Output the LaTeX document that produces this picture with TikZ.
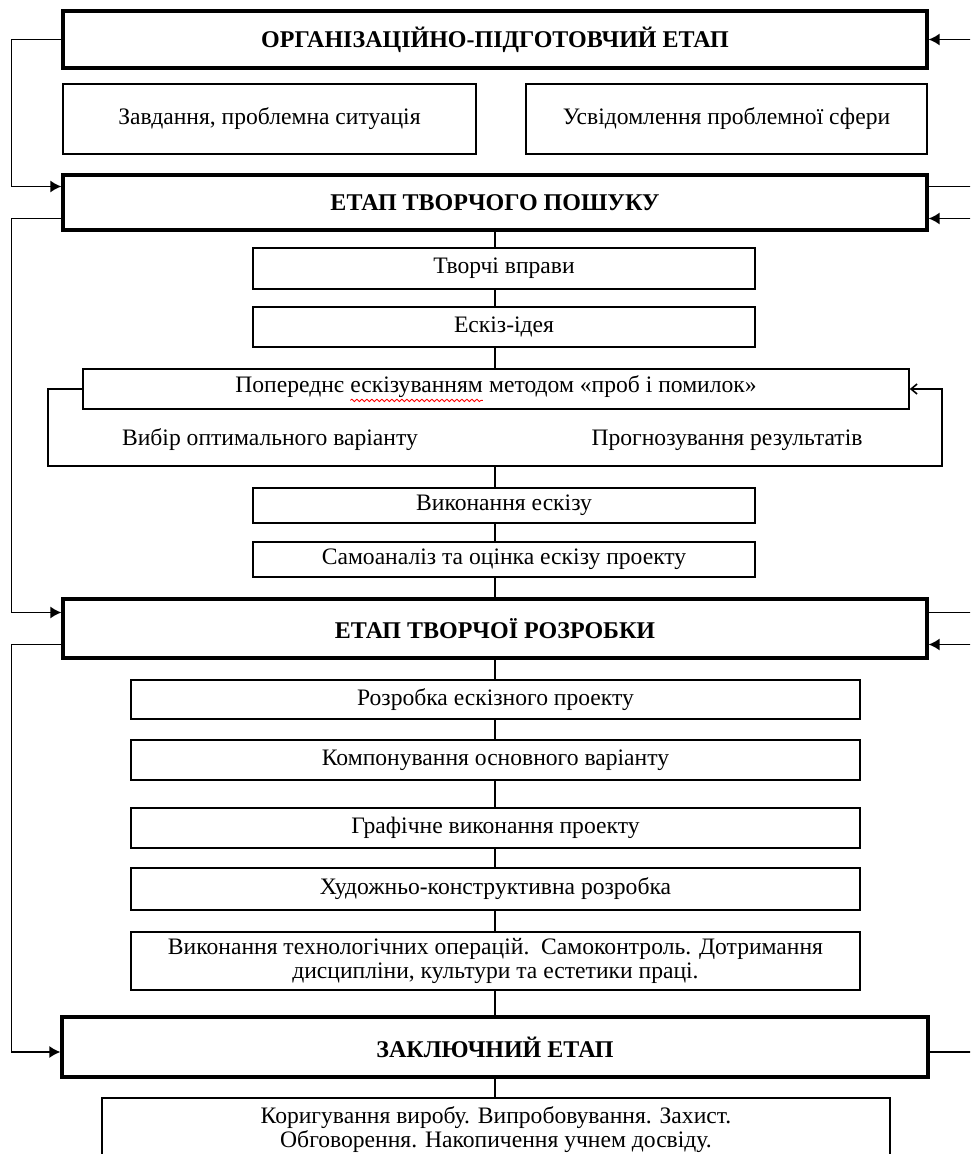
\documentclass[tikz,border=0pt]{standalone}
\usepackage{fontspec}
\setmainfont{Liberation Serif}
\usetikzlibrary{arrows.meta,decorations.pathmorphing}

\newcommand\spellwave[1]{\tikz[baseline=(w.base)]{\node[inner sep=0pt,outer sep=0pt,draw=none,minimum width=0pt,minimum height=0pt] (w) {#1};
    \draw[red,line width=0.4pt,decorate,decoration={snake,amplitude=0.6pt,segment length=2.5pt}] ([yshift=-1.2pt]w.south west) -- ([yshift=-1.2pt]w.south east);}}

\begin{document}
\begin{tikzpicture}[x=0.5pt,y=-0.5pt,
    stage/.style = {draw,line width=1.6pt,inner sep=0pt,font=\fontsize{12}{14}\selectfont\bfseries},
    task/.style = {draw,line width=0.8pt,inner sep=0pt,align=center,font=\fontsize{11.8}{12}\selectfont},
    note/.style = {inner sep=0pt,font=\fontsize{11.8}{12}\selectfont},
    link/.style = {line width=0.8pt},
    feed/.style = {line width=0.8pt,-{Latex[length=5.5pt,width=6pt]}},
    back/.style = {line width=0.8pt,{Latex[length=5.5pt,width=6pt]}-}]

    \useasboundingbox (0,0) rectangle (970,1154);
    \clip (0,0) rectangle (970,1154);

    \node[stage,minimum width=432pt,minimum height=28.5pt] (org) at (495,39.5) {ОРГАНІЗАЦІЙНО-ПІДГОТОВЧИЙ ЕТАП};
    \node[task,minimum width=206.5pt,minimum height=35pt] (problem) at (269.5,119) {Завдання, проблемна ситуація};
    \node[task,minimum width=200.5pt,minimum height=35pt] (awareness) at (726.5,119) {Усвідомлення проблемної сфери};

    \node[stage,minimum width=432pt,minimum height=27.5pt] (search) at (495,202.5) {ЕТАП ТВОРЧОГО ПОШУКУ};
    \node[task,minimum width=251pt,minimum height=20.5pt] (exercise) at (504,268.5) {Творчі вправи};
    \node[task,minimum width=251pt,minimum height=20pt] (idea) at (504,327) {Ескіз-ідея};
    \node[task,minimum width=413pt,minimum height=20pt] (trial) at (496,389) {Попереднє \spellwave{ескізуванням} методом «проб і помилок»};
    \node[note] (choice) at (270,440) {Вибір оптимального варіанту};
    \node[note] (forecast) at (727,440) {Прогнозування результатів};
    \node[task,minimum width=251pt,minimum height=17.5pt] (sketch) at (504,505.5) {Виконання ескізу};
    \node[task,minimum width=251pt,minimum height=17.5pt] (selfcheck) at (504,559.5) {Самоаналіз та оцінка ескізу проекту};

    \node[stage,minimum width=432pt,minimum height=29.5pt] (develop) at (495,628.5) {ЕТАП ТВОРЧОЇ РОЗРОБКИ};
    \node[task,minimum width=364.5pt,minimum height=19.5pt] (draft) at (495.5,699.5) {Розробка ескізного проекту};
    \node[task,minimum width=364.5pt,minimum height=20pt] (layout) at (495.5,760) {Компонування основного варіанту};
    \node[task,minimum width=364.5pt,minimum height=20pt] (graphic) at (495.5,828) {Графічне виконання проекту};
    \node[task,minimum width=364.5pt,minimum height=21pt] (design) at (495.5,889) {Художньо-конструктивна розробка};
    \node[task,minimum width=364.5pt,minimum height=29pt] (operations) at (495.5,961) {Виконання технологічних операцій.\ \ Самоконтроль. Дотримання\\дисципліни, культури та естетики праці.};

    \node[stage,minimum width=433pt,minimum height=30pt] (final) at (495,1047) {ЗАКЛЮЧНИЙ ЕТАП};
    \node[task,minimum width=394pt,minimum height=32pt] (closing) at (496,1130) {Коригування виробу. Випробовування. Захист.\\Обговорення. Накопичення учнем досвіду.};

    \coordinate (rim) at (990,0);

    \draw[link] (search.south) -- (search.south |- exercise.north);
    \draw[link] (search.south |- exercise.south) -- (search.south |- idea.north);
    \draw[link] (search.south |- idea.south) -- (search.south |- trial.north);
    \draw[link,-{Straight Barb[length=3pt,width=5pt]}] (trial.west) -- ++(-34,0) -- ++(0,77) coordinate (loopbase) -- ++(894,0) -- ++(0,-77) -- (trial.east);
    \draw[link] (search.south |- loopbase) -- (search.south |- sketch.north);
    \draw[link] (search.south |- sketch.south) -- (search.south |- selfcheck.north);
    \draw[link] (search.south |- selfcheck.south) -- (develop.north);

    \draw[link] (develop.south) -- (develop.south |- draft.north);
    \draw[link] (develop.south |- draft.south) -- (develop.south |- layout.north);
    \draw[link] (develop.south |- layout.south) -- (develop.south |- graphic.north);
    \draw[link] (develop.south |- graphic.south) -- (develop.south |- design.north);
    \draw[link] (develop.south |- design.south) -- (develop.south |- operations.north);
    \draw[link] (develop.south |- operations.south) -- (final.north);
    \draw[link] (final.south) -- (final.south |- closing.north);

    \draw[feed] (org.west) -- ++(-50,0) |- ([yshift=8pt]search.west);
    \draw[feed] ([yshift=-8pt]search.west) -- ++(-50,0) |- ([yshift=8pt]develop.west);
    \draw[feed] ([yshift=-8pt]develop.west) -- ++(-50,0) |- ([yshift=-2.5pt]final.west);

    \draw[feed] (rim |- org.east) -- (org.east);
    \draw[link] ([yshift=8pt]search.east) -- ++(50,0);
    \draw[back] ([yshift=-8pt]search.east) -- ++(50,0);
    \draw[link] ([yshift=8pt]develop.east) -- ++(50,0);
    \draw[back] ([yshift=-8pt]develop.east) -- ++(50,0);
    \draw[link] ([yshift=-2.5pt]final.east) -- ++(50,0);
\end{tikzpicture}
\end{document}
